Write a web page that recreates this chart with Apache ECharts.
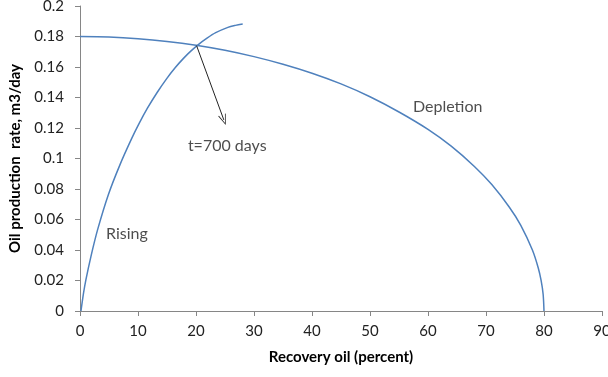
<!DOCTYPE html>
<html><head><meta charset="utf-8">
<script src="https://cdn.jsdelivr.net/npm/echarts@6/dist/echarts.min.js"></script>
<style>html,body{margin:0;padding:0;background:#fff}#c{width:608px;height:377px}</style>
</head><body><div id="c"></div>
<script>
const risingX = [0.17, 0.6, 1.03, 1.9, 3.05, 4.9, 6.9, 8.9, 10.2, 11.6, 13.3, 14.95, 16.4, 17.8, 19.1, 20.4, 21.9, 23.4, 25.5, 26.8, 28.05];
const risingY = [0, 0.0115, 0.0207, 0.036, 0.0535, 0.0764, 0.096, 0.113, 0.123, 0.1328, 0.1433, 0.1524, 0.1595, 0.1655, 0.1704, 0.1747, 0.1789, 0.1825, 0.186, 0.1873, 0.1882];
const depletionX = [0, 5, 10, 15, 20, 25, 30, 35, 40, 45, 50, 55, 60, 64, 68, 71, 74, 76, 78, 79, 79.5, 79.85, 80];
const depletionY = [0.180, 0.1797, 0.1786, 0.1768, 0.1743, 0.1710, 0.1668, 0.1618, 0.1559, 0.1489, 0.1405, 0.1305, 0.1191, 0.1081, 0.0948, 0.0829, 0.0682, 0.0562, 0.0400, 0.0284, 0.0201, 0.011, 0];
const arrowFrom = [20.1, 0.174];
const arrowTo = [24.8, 0.1253];
const textLabels = [
  {name: 't=700 days', x: 18.6, y: 0.108},
  {name: 'Rising', x: 4.5, y: 0.0503},
  {name: 'Depletion', x: 57.4, y: 0.1336}
];
const xTitle = 'Recovery oil (percent)';
const yTitle = 'Oil production  rate, m3/day';

const zip = (a, b) => a.map((v, i) => [v, b[i]]);
const font = 'Lato, "Open Sans", sans-serif';
const chart = echarts.init(document.getElementById('c'));
chart.setOption({
  animation: false,
  grid: {left: 80, right: 6, top: 6, bottom: 66, outerBoundsMode: 'none', containLabel: false},
  xAxis: {
    type: 'value', min: 0, max: 90, interval: 10,
    name: xTitle, nameLocation: 'middle', nameGap: 39,
    nameTextStyle: {fontFamily: font, fontWeight: 'bold', fontSize: 15, color: '#000'},
    axisLine: {show: true, lineStyle: {color: '#868686'}},
    axisTick: {show: true, length: 5, lineStyle: {color: '#868686'}},
    axisLabel: {fontFamily: font, fontSize: 15, color: '#222', margin: 13},
    splitLine: {show: false}
  },
  yAxis: {
    type: 'value', min: 0, max: 0.2, interval: 0.02,
    name: yTitle, nameLocation: 'middle', nameGap: 57,
    nameTextStyle: {fontFamily: font, fontWeight: 'bold', fontSize: 15, color: '#000'},
    axisLine: {show: true, lineStyle: {color: '#868686'}},
    axisTick: {show: true, length: 5, lineStyle: {color: '#868686'}},
    axisLabel: {fontFamily: font, fontSize: 15, color: '#222', margin: 16,
      formatter: v => String(Math.round(v * 100) / 100)},
    splitLine: {show: false}
  },
  series: [
    {type: 'line', name: 'Rising', data: zip(risingX, risingY), smooth: 0.3, showSymbol: false,
     lineStyle: {color: '#4F81BD', width: 1.5}},
    {type: 'line', name: 'Depletion', data: zip(depletionX, depletionY), smooth: 0.3, showSymbol: false,
     lineStyle: {color: '#4F81BD', width: 1.5},
     markLine: {silent: true, symbol: ['none', 'path://M5,0 L10,10 L9,10 L5,2 L1,10 L0,10 Z'], symbolSize: [8, 11], label: {show: false},
       lineStyle: {color: '#222', width: 1, type: 'solid'},
       data: [[{coord: arrowFrom}, {coord: arrowTo}]]}},
    {type: 'scatter', data: textLabels.map(t => ({name: t.name, value: [t.x, t.y]})), symbolSize: 0,
     label: {show: true, position: 'right', distance: 0, formatter: p => p.name,
       fontFamily: font, fontSize: 16, color: '#222'}}
  ]
});
</script></body></html>
